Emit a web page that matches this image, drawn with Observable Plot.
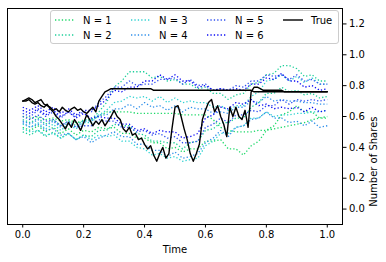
<!DOCTYPE html>
<html>
<head>
<meta charset="utf-8">
<script src="https://cdn.jsdelivr.net/npm/d3@7"></script>
<script src="https://cdn.jsdelivr.net/npm/@observablehq/plot@0.6"></script>
<style>
  html, body { margin: 0; padding: 0; background: white; }
  #wrap { position: relative; width: 386px; height: 262px; }
  #legend { position: absolute; left: 0; top: 0; pointer-events: none; }
</style>
</head>
<body>
<div id="wrap"></div>
<script>
// ---- data ----
const seriesNames = ["N = 1", "N = 2", "N = 3", "N = 4", "N = 5", "N = 6"];
const seriesColors = ["#1fd96a", "#1ccf99", "#2fd2d2", "#2e8fea", "#3050f0", "#0b0bf5"];
const xTicks = [0, 0.2, 0.4, 0.6, 0.8, 1.0];
const yTicks = [0, 0.2, 0.4, 0.6, 0.8, 1.0, 1.2];

// estimates tracking the first true path (sampled every 0.025 in time)
const n1Upper = [0.60,0.59,0.60,0.58,0.59,0.57,0.58,0.56,0.57,0.58, 0.60,0.63,0.63,0.63,0.63,0.62,0.62,0.62,0.62,0.62, 0.62,0.61,0.61,0.61,0.61,0.58,0.53,0.51,0.50,0.50, 0.50,0.51,0.51,0.52,0.53,0.54,0.55,0.56,0.58,0.59,0.60];
const n2Upper = [0.58,0.56,0.59,0.55,0.58,0.54,0.57,0.54,0.58,0.58, 0.63,0.69,0.79,0.83,0.89,0.89,0.89,0.85,0.86,0.83, 0.84,0.81,0.81,0.78,0.79,0.75,0.75,0.71,0.74,0.75, 0.81,0.82,0.87,0.88,0.93,0.93,0.91,0.86,0.87,0.83,0.83];
const n3Upper = [0.55,0.53,0.56,0.52,0.55,0.51,0.55,0.52,0.56,0.56, 0.61,0.64,0.69,0.70,0.73,0.72,0.73,0.70,0.73,0.69, 0.72,0.69,0.70,0.69,0.69,0.66,0.67,0.64,0.67,0.67, 0.73,0.76,0.83,0.84,0.87,0.83,0.86,0.82,0.85,0.81,0.81];
const n4Upper = [0.57,0.55,0.58,0.54,0.57,0.53,0.56,0.53,0.57,0.57, 0.61,0.61,0.65,0.65,0.68,0.65,0.69,0.66,0.67,0.64, 0.67,0.63,0.66,0.65,0.65,0.62,0.63,0.62,0.66,0.66, 0.70,0.69,0.73,0.70,0.71,0.70,0.70,0.69,0.69,0.68,0.68];
const n5Upper = [0.62,0.60,0.64,0.60,0.63,0.59,0.63,0.60,0.63,0.63, 0.69,0.73,0.79,0.79,0.83,0.80,0.81,0.81,0.84,0.84, 0.85,0.81,0.84,0.80,0.81,0.77,0.78,0.77,0.80,0.79, 0.83,0.83,0.87,0.86,0.87,0.84,0.87,0.83,0.84,0.81,0.81];
const n6Upper = [0.66,0.64,0.67,0.63,0.66,0.62,0.65,0.61,0.64,0.64, 0.67,0.71,0.77,0.76,0.79,0.79,0.83,0.83,0.87,0.84, 0.87,0.83,0.83,0.79,0.80,0.77,0.78,0.77,0.78,0.77, 0.81,0.81,0.85,0.84,0.88,0.83,0.83,0.79,0.80,0.77,0.78];

// estimates tracking the second true path
const n1Lower = [0.53,0.51,0.54,0.50,0.53,0.49,0.52,0.48,0.51,0.50, 0.53,0.52,0.53,0.49,0.49,0.46,0.46,0.43,0.43,0.39, 0.40,0.37,0.39,0.39,0.44,0.44,0.45,0.39,0.39,0.35, 0.41,0.44,0.51,0.54,0.61,0.63,0.67,0.63,0.63,0.59,0.59];
const n2Lower = [0.50,0.48,0.51,0.47,0.50,0.46,0.49,0.45,0.48,0.47, 0.51,0.51,0.55,0.54,0.54,0.49,0.48,0.44,0.44,0.43, 0.43,0.39,0.43,0.44,0.51,0.52,0.56,0.56,0.59,0.59, 0.66,0.69,0.75,0.75,0.79,0.76,0.77,0.74,0.75,0.72,0.73];
const n3Lower = [0.52,0.50,0.51,0.48,0.49,0.46,0.49,0.45,0.48,0.45, 0.48,0.47,0.48,0.44,0.44,0.40,0.39,0.35,0.36,0.33, 0.34,0.31,0.32,0.33,0.41,0.44,0.49,0.49,0.53,0.54, 0.59,0.59,0.63,0.60,0.61,0.61,0.62,0.62,0.63,0.63,0.64];
const n4Lower = [0.56,0.53,0.55,0.51,0.52,0.48,0.49,0.45,0.47,0.43, 0.46,0.48,0.50,0.47,0.47,0.42,0.42,0.38,0.38,0.34, 0.37,0.33,0.34,0.36,0.43,0.46,0.51,0.47,0.53,0.54, 0.58,0.59,0.63,0.59,0.59,0.56,0.57,0.54,0.57,0.53,0.54];
const n5Lower = [0.60,0.58,0.61,0.57,0.58,0.54,0.57,0.53,0.54,0.54, 0.58,0.57,0.57,0.53,0.53,0.50,0.51,0.48,0.49,0.46, 0.47,0.43,0.43,0.44,0.53,0.55,0.59,0.56,0.61,0.61, 0.64,0.63,0.67,0.67,0.71,0.68,0.71,0.70,0.71,0.70,0.71];
const n6Lower = [0.64,0.62,0.65,0.61,0.64,0.60,0.63,0.59,0.62,0.59, 0.60,0.59,0.59,0.55,0.55,0.51,0.52,0.49,0.51,0.50, 0.50,0.46,0.47,0.49,0.59,0.61,0.66,0.65,0.69,0.68, 0.71,0.67,0.68,0.65,0.66,0.65,0.66,0.63,0.66,0.63,0.64];

// true paths (sampled every 0.01 in time)
const trueA = [0.70,0.71,0.72,0.71,0.69,0.70,0.71,0.68,0.67,0.66, 0.64,0.65,0.63,0.66,0.64,0.63,0.65,0.66,0.64,0.65, 0.63,0.62,0.64,0.66,0.63,0.70,0.73,0.76,0.77,0.78,
  0.78,0.78,0.78,0.78,0.78,0.78,0.78,0.78,0.78,0.78, 0.78,0.78,0.78,0.77,0.77,0.77,0.77,0.77,0.77,0.77, 0.77,0.77,0.77,0.77,0.77,0.77,0.77,0.77,0.77,0.77,
  0.77,0.77,0.77,0.77,0.77,0.77,0.77,0.77,0.77,0.77, 0.77,0.77,0.77,0.77,0.77,0.77,0.76,0.76,0.76,0.76, 0.76,0.76,0.76,0.76,0.76,0.76,0.76,0.76,0.76,0.76,
  0.76,0.76,0.76,0.76,0.76,0.76,0.76,0.76,0.76,0.76,0.76];
const trueB = [0.70,0.70,0.71,0.69,0.68,0.69,0.67,0.66,0.68,0.65, 0.63,0.60,0.58,0.55,0.52,0.56,0.53,0.58,0.55,0.51, 0.56,0.61,0.58,0.54,0.57,0.55,0.58,0.54,0.57,0.60,
  0.64,0.60,0.58,0.52,0.50,0.53,0.48,0.49,0.45,0.46, 0.42,0.39,0.41,0.35,0.31,0.36,0.40,0.33,0.36,0.52, 0.66,0.67,0.60,0.52,0.45,0.36,0.31,0.36,0.42,0.58,
  0.64,0.69,0.71,0.63,0.67,0.60,0.55,0.47,0.66,0.60, 0.66,0.60,0.58,0.64,0.53,0.76,0.79,0.79,0.78,0.77, 0.77,0.77,0.77,0.77,0.77,0.77,0.76,0.76,0.76,0.76,
  0.76,0.76,0.76,0.76,0.76,0.76,0.76,0.76,0.76,0.76,0.76];

// ---- build tables ----
const estimates = [
  ["N = 1", n1Upper], ["N = 1", n1Lower],
  ["N = 2", n2Upper], ["N = 2", n2Lower],
  ["N = 3", n3Upper], ["N = 3", n3Lower],
  ["N = 4", n4Upper], ["N = 4", n4Lower],
  ["N = 5", n5Upper], ["N = 5", n5Lower],
  ["N = 6", n6Upper], ["N = 6", n6Lower]
];
const estRows = estimates.flatMap(([series, vals], k) =>
  vals.map((v, i) => ({t: i / (vals.length - 1), v, series, key: k})));
const trueRows = [trueA, trueB].flatMap((vals, k) =>
  vals.map((v, i) => ({t: i / (vals.length - 1), v, key: k})));

const font = "'DejaVu Sans', sans-serif";
const fmt = d => d.toFixed(1);

const chart = Plot.plot({
  width: 386, height: 262,
  marginLeft: 7, marginRight: 44, marginTop: 8, marginBottom: 38,
  x: {domain: [-0.05, 1.05]},
  y: {domain: [-0.1, 1.3]},
  color: {domain: seriesNames, range: seriesColors},
  style: {fontFamily: font, fontSize: "10px", background: "white", color: "black", overflow: "visible"},
  marks: [
    Plot.line(estRows, {x: "t", y: "v", z: "key", stroke: "series", strokeWidth: 1.3,
      strokeDasharray: "1.3,2.1", strokeLinecap: "butt", strokeLinejoin: "miter"}),
    Plot.line(trueRows, {x: "t", y: "v", z: "key", stroke: "black", strokeWidth: 1.4}),
    Plot.axisX({ticks: xTicks, tickFormat: fmt, tickSize: 3.5, tickPadding: 3, label: null, fontSize: 10}),
    Plot.axisY({anchor: "right", ticks: yTicks, tickFormat: fmt, tickSize: 3.5, tickPadding: 3, label: null, fontSize: 10}),
    Plot.frame({stroke: "black", strokeWidth: 1}),
    Plot.text(["Time"], {text: d => d, frameAnchor: "bottom", dy: 28, fontSize: 10}),
    Plot.text(["Number of Shares"], {text: d => d, frameAnchor: "right", dx: 31, rotate: -90, fontSize: 10})
  ]
});
const wrap = document.getElementById("wrap");
wrap.appendChild(chart);

// ---- legend overlay ----
const legendItems = seriesNames.map((name, i) => ({name, color: seriesColors[i], dotted: true}))
  .concat([{name: "True", color: "black", dotted: false}]);
const colX = [55, 131, 207, 283];
const rowY = [20, 35];
const svg = d3.select(wrap).append("svg")
  .attr("id", "legend").attr("width", 386).attr("height", 262)
  .style("font-family", font).style("font-size", "10px");
svg.append("rect").attr("x", 50.5).attr("y", 10.5).attr("width", 288).attr("height", 33)
  .attr("rx", 2.5).attr("fill", "white").attr("fill-opacity", 0.8).attr("stroke", "#cccccc");
legendItems.forEach((d, i) => {
  const cx = colX[Math.floor(i / 2)], cy = rowY[i % 2];
  svg.append("line").attr("x1", cx).attr("x2", cx + 20).attr("y1", cy).attr("y2", cy)
    .attr("stroke", d.color).attr("stroke-width", d.dotted ? 1.3 : 1.4)
    .attr("stroke-dasharray", d.dotted ? "1.3,2.1" : null);
  svg.append("text").attr("x", cx + 28).attr("y", cy).attr("dy", "0.35em")
    .attr("fill", "black").text(d.name);
});
</script>
</body>
</html>
